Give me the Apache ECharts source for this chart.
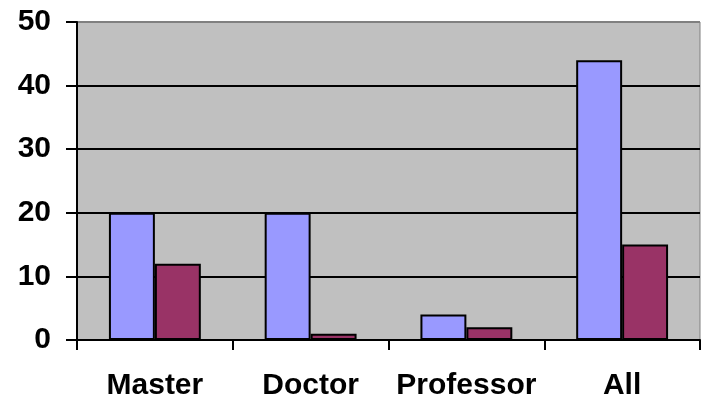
<!DOCTYPE html>
<html>
<head>
<meta charset="utf-8">
<script src="https://cdn.jsdelivr.net/npm/echarts@6/dist/echarts.min.js"></script>
<style>
html,body{margin:0;padding:0;background:#fff;}
#chart{width:702px;height:407px;}
</style>
</head>
<body>
<div id="chart"></div>
<script>
var categories = ['Master', 'Doctor', 'Professor', 'All'];
var seriesA = [20, 20, 4, 44];
var seriesB = [12, 1, 2, 15];
var yMin = 0, yMax = 50, yStep = 10;

var chart = echarts.init(document.getElementById('chart'), null, {renderer: 'canvas'});
var font = '"Liberation Sans", Arial, sans-serif';
chart.setOption({
  animation: false,
  backgroundColor: '#ffffff',
  grid: {
    left: 77, right: 2, top: 22, bottom: 67,
    show: true, backgroundColor: '#C0C0C0', borderColor: '#808080', borderWidth: 1
  },
  xAxis: {
    type: 'category',
    data: categories,
    axisLine: {show: true, lineStyle: {color: '#000', width: 2}},
    axisTick: {show: true, interval: 0, length: 10, lineStyle: {color: '#000', width: 2}},
    axisLabel: {interval: 0, color: '#000', fontFamily: font, fontWeight: 'bold', fontSize: 30, margin: 31},
    splitLine: {show: false}
  },
  yAxis: {
    type: 'value',
    min: yMin, max: yMax, interval: yStep,
    axisLine: {show: true, lineStyle: {color: '#000', width: 2}},
    axisTick: {show: true, length: 11, lineStyle: {color: '#000', width: 2}},
    axisLabel: {color: '#000', fontFamily: font, fontWeight: 'bold', fontSize: 30, margin: 26},
    splitLine: {show: true, lineStyle: {color: ['#000', '#000', '#000', '#000', '#000', '#808080'], width: 2}}
  },
  series: [
    {
      type: 'bar', data: seriesA, barGap: '0%', barCategoryGap: '41%',
      itemStyle: {color: '#9999FF', borderColor: '#000', borderWidth: 2}
    },
    {
      type: 'bar', data: seriesB, barGap: '0%', barCategoryGap: '41%',
      itemStyle: {color: '#993366', borderColor: '#000', borderWidth: 2}
    }
  ]
});
</script>
</body>
</html>
